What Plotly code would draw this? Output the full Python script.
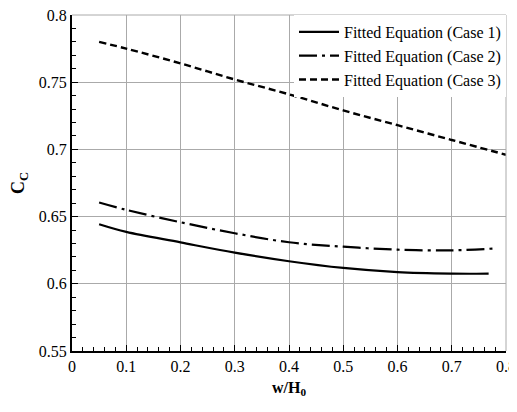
import plotly.graph_objects as go

x1 = [0.05, 0.1, 0.2, 0.3, 0.4, 0.5, 0.6, 0.7, 0.768]
c1 = [0.6443, 0.6386, 0.6308, 0.6232, 0.6168, 0.6118, 0.6087, 0.6076, 0.6075]
x2 = [0.05, 0.1, 0.2, 0.3, 0.4, 0.5, 0.6, 0.7, 0.775]
c2 = [0.6605, 0.6550, 0.6458, 0.6376, 0.6309, 0.6276, 0.6254, 0.6249, 0.6262]
x3 = [0.05, 0.1, 0.2, 0.3, 0.4, 0.5, 0.6, 0.7, 0.8]
c3 = [0.780, 0.775, 0.764, 0.752, 0.741, 0.729, 0.718, 0.707, 0.696]
names = ["Fitted Equation (Case 1)", "Fitted Equation (Case 2)", "Fitted Equation (Case 3)"]

FONT = "Liberation Serif"

fig = go.Figure()
fig.add_trace(go.Scatter(x=x1, y=c1, mode="lines", name=names[0], line=dict(color="black", width=2.2, shape="spline")))
fig.add_trace(go.Scatter(x=x2, y=c2, mode="lines", name=names[1], line=dict(color="black", width=2.2, dash="18px,5px,3px,5px", shape="spline")))
fig.add_trace(go.Scatter(x=x3, y=c3, mode="lines", name=names[2], line=dict(color="black", width=2.4, dash="7px,4px", shape="spline")))

fig.update_layout(
    width=509, height=390,
    margin=dict(l=64, r=11, t=7, b=47, autoexpand=False),
    paper_bgcolor="white", plot_bgcolor="white",
    font=dict(family=FONT, size=16, color="black"),
    showlegend=True,
    legend=dict(x=1, xanchor="right", y=1.0, yanchor="top", bgcolor="white",
                font=dict(family=FONT, size=16, color="black"), tracegroupgap=0, itemwidth=40),
    xaxis=dict(range=[0, 0.8], dtick=0.1, showgrid=True, gridcolor="#aaaaaa", gridwidth=1, automargin=False,
               tickfont=dict(family=FONT, size=16), ticklabeloverflow="allow",
               showline=True, linecolor="black", linewidth=2, ticks="inside", ticklen=6, tickcolor="black",
               minor=dict(dtick=0.02, ticks="inside", ticklen=4, tickcolor="black", showgrid=False),
               zeroline=False, title=dict(text="<b>w/H<sub>0</sub></b>", standoff=12, font=dict(family=FONT, size=16))),
    yaxis=dict(range=[0.55, 0.8], dtick=0.05, showgrid=True, gridcolor="#aaaaaa", gridwidth=1, automargin=False,
               tickfont=dict(family=FONT, size=16), ticklabeloverflow="allow",
               showline=True, linecolor="black", linewidth=2, ticks="inside", ticklen=6, tickcolor="black",
               minor=dict(dtick=0.01, ticks="inside", ticklen=4, tickcolor="black", showgrid=False),
               zeroline=False, title=dict(text="<b>C<sub>C</sub></b>", standoff=11, font=dict(family=FONT, size=18))),
    shapes=[dict(type="line", xref="paper", yref="paper", x0=0, x1=1, y0=1, y1=1, line=dict(color="#aaaaaa", width=1)),
            dict(type="line", xref="paper", yref="paper", x0=1, x1=1, y0=0, y1=1, line=dict(color="#aaaaaa", width=1))],
)
fig.write_html("out.html")
